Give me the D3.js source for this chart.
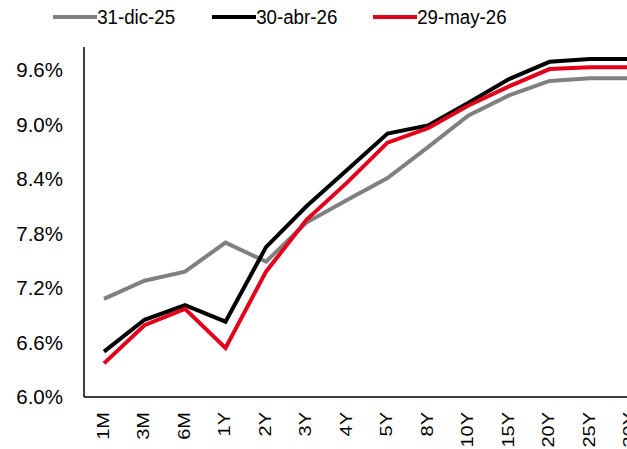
<!DOCTYPE html>
<html>
<head>
<meta charset="utf-8">
<script src="https://cdn.jsdelivr.net/npm/d3@7"></script>
<style>
  body { margin: 0; background: #fff; }
  text { font-family: "Liberation Sans", Arial, sans-serif; fill: #000; }
</style>
</head>
<body>
<svg id="chart" width="627" height="449"></svg>
<script>
// Tenors on the curve
const tenors = ["1M", "3M", "6M", "1Y", "2Y", "3Y", "4Y", "5Y", "8Y", "10Y", "15Y", "20Y", "25Y", "30Y"];

// Yields (%) for each date
const dic25 = [7.08, 7.28, 7.38, 7.70, 7.49, 7.92, 8.17, 8.41, 8.75, 9.10, 9.32, 9.48, 9.51, 9.51];
const abr26 = [6.50, 6.85, 7.01, 6.83, 7.65, 8.10, 8.50, 8.90, 8.99, 9.24, 9.50, 9.69, 9.72, 9.72];
const may26 = [6.37, 6.79, 6.97, 6.54, 7.38, 7.95, 8.36, 8.80, 8.96, 9.21, 9.42, 9.61, 9.63, 9.63];

const yTicks = [6.0, 6.6, 7.2, 7.8, 8.4, 9.0, 9.6];

const series = [
    { name: "31-dic-25", values: dic25, color: "#808080" },
    { name: "30-abr-26", values: abr26, color: "#000000" },
    { name: "29-may-26", values: may26, color: "#e2001a" }
];

const svg = d3.select("#chart");
const plotLeft = 84, plotBottom = 397, plotTop = 47;

// point scale runs past the right edge, like the original (30Y is clipped)
const x = d3.scalePoint()
    .domain(tenors)
    .range([104, 104 + 40.5 * (tenors.length - 1)]);

const y = d3.scaleLinear()
    .domain([6.0, 9.6])
    .range([plotBottom, 70]);

// Y axis
const yAxis = svg.append("g")
    .attr("transform", `translate(${plotLeft},0)`)
    .call(d3.axisLeft(y).tickValues(yTicks).tickSize(0).tickPadding(21)
        .tickFormat(d => d3.format(".1f")(d) + "%"));
yAxis.select(".domain").remove();
yAxis.selectAll("text").style("font-size", "20.5px").attr("font-family", null);

svg.append("line")
    .attr("x1", plotLeft).attr("x2", plotLeft)
    .attr("y1", plotTop).attr("y2", plotBottom)
    .attr("stroke", "#000").attr("stroke-width", 1.5);

// X axis (rotated, slightly condensed labels)
const xAxis = svg.append("g")
    .attr("transform", `translate(0,${plotBottom})`)
    .call(d3.axisBottom(x).tickSize(0));
xAxis.select(".domain").remove();
xAxis.selectAll("text")
    .attr("font-family", null)
    .style("font-size", "20px")
    .attr("text-anchor", "end")
    .attr("dy", null)
    .attr("y", 0)
    .attr("transform", "translate(4,15) rotate(-90) scale(1,0.85)");

svg.append("line")
    .attr("x1", plotLeft).attr("x2", 627)
    .attr("y1", plotBottom).attr("y2", plotBottom)
    .attr("stroke", "#000").attr("stroke-width", 1.5);

// Lines
const line = d3.line()
    .x((d, i) => x(tenors[i]))
    .y(d => y(d));

svg.selectAll(".curve")
    .data(series)
    .enter()
    .append("path")
    .attr("class", "curve")
    .attr("fill", "none")
    .attr("stroke", d => d.color)
    .attr("stroke-width", 4)
    .attr("d", d => line(d.values));

// Legend
const legendX = [53, 212, 373];
const legend = svg.selectAll(".legend")
    .data(series)
    .enter()
    .append("g")
    .attr("class", "legend")
    .attr("transform", (d, i) => `translate(${legendX[i]},17)`);

legend.append("line")
    .attr("x1", 0).attr("x2", 44)
    .attr("stroke", d => d.color)
    .attr("stroke-width", 4);

legend.append("text")
    .attr("x", 46)
    .attr("dy", "0.36em")
    .style("font-size", "19.5px")
    .attr("transform", "scale(0.96,1)")
    .text(d => d.name);
</script>
</body>
</html>
